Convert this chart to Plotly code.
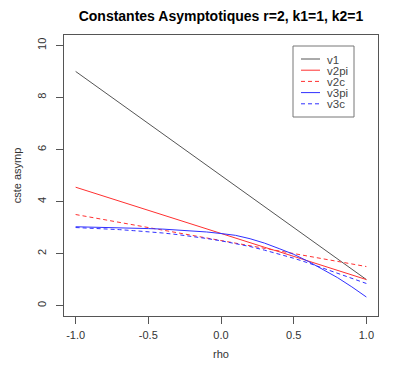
import plotly.graph_objects as go

# values
rho = [-1.0, -0.9, -0.8, -0.7, -0.6, -0.5, -0.4, -0.3, -0.2, -0.1, 0.0,
       0.1, 0.2, 0.3, 0.4, 0.5, 0.6, 0.7, 0.8, 0.9, 1.0]
v1 = [9.0, 8.6, 8.2, 7.8, 7.4, 7.0, 6.6, 6.2, 5.8, 5.4, 5.0,
      4.6, 4.2, 3.8, 3.4, 3.0, 2.6, 2.2, 1.8, 1.4, 1.0]
v2pi = [4.55, 4.37, 4.19, 4.02, 3.84, 3.66, 3.49, 3.31, 3.13, 2.95, 2.78,
        2.60, 2.42, 2.24, 2.07, 1.89, 1.71, 1.53, 1.36, 1.18, 1.0]
v2c = [3.5, 3.4, 3.3, 3.2, 3.1, 3.0, 2.9, 2.8, 2.7, 2.6, 2.5,
       2.4, 2.3, 2.2, 2.1, 2.0, 1.9, 1.8, 1.7, 1.6, 1.5]
v3pi = [3.03, 3.02, 3.01, 3.0, 2.98, 2.96, 2.94, 2.91, 2.88, 2.83, 2.77,
        2.70, 2.57, 2.40, 2.19, 1.97, 1.70, 1.40, 1.08, 0.72, 0.33]
v3c = [3.0, 2.98, 2.95, 2.92, 2.88, 2.84, 2.79, 2.73, 2.66, 2.58, 2.49,
       2.39, 2.27, 2.13, 1.98, 1.82, 1.64, 1.45, 1.26, 1.05, 0.85]

names = ["v1", "v2pi", "v2c", "v3pi", "v3c"]
values = [v1, v2pi, v2c, v3pi, v3c]
colors = ["#555555", "#ff3030", "#ff3030", "#3030ff", "#3030ff"]
dashes = ["solid", "solid", "4px,3px", "solid", "4px,3px"]

# the page body adds an 8px margin, so the figure is made 8px smaller
OFF = 8
W, H = 395 - OFF, 367 - OFF
L, R, T, B = 64 - OFF, 17, 35 - OFF, 51   # plot box in pixels


def px(x):
    # window pixel -> paper coordinate
    return (x - OFF - L) / (W - L - R)


def py(y):
    return (H - B - (y - OFF)) / (H - T - B)


fig = go.Figure()
for name, vals, col, dash in zip(names, values, colors, dashes):
    fig.add_trace(go.Scatter(
        x=rho, y=vals, name=name, mode="lines",
        line=dict(color=col, width=1, dash=dash),
    ))

# R-style legend box drawn by hand
fig.add_shape(type="rect", xref="paper", yref="paper",
              x0=px(293), x1=px(354), y0=py(117), y1=py(46),
              line=dict(color="#777", width=1), fillcolor="white", layer="above")
for i, (name, col, dash) in enumerate(zip(names, colors, dashes)):
    yy = 59 + i * 11.2
    fig.add_shape(type="line", xref="paper", yref="paper",
                  x0=px(301), x1=px(320), y0=py(yy), y1=py(yy),
                  line=dict(color=col, width=1, dash=dash), layer="above")
    fig.add_annotation(text=name, xref="paper", yref="paper", x=px(325), y=py(yy + 0.5),
                       xanchor="left", yanchor="middle", showarrow=False,
                       font=dict(family="Liberation Sans, Arial", size=11.5, color="#444"))

axis_style = dict(
    showline=True, mirror=True, linecolor="#555", linewidth=1,
    ticks="outside", ticklen=7, tickcolor="#555",
    showgrid=False, zeroline=False, automargin=False,
    tickfont=dict(family="Liberation Sans, Arial", size=11, color="#333"),
)
title_font = dict(family="Liberation Sans, Arial", size=11, color="#333")

fig.update_layout(
    template="none",
    width=W, height=H, showlegend=False,
    margin=dict(l=L, r=R, t=T, b=B),
    paper_bgcolor="white", plot_bgcolor="white",
    font=dict(family="Liberation Sans, Arial", color="#333"),
    title=dict(
        text="<b>Constantes Asymptotiques r=2, k1=1, k2=1</b>",
        x=(L + W - R) / 2 / W, xanchor="center", y=1 - (16 - OFF) / H, yanchor="middle",
        font=dict(family="Liberation Sans, Arial", size=14, color="black"),
    ),
    xaxis=dict(axis_style, range=[-1.08, 1.08], tickvals=[-1, -0.5, 0, 0.5, 1],
               ticktext=["-1.0", "-0.5", "0.0", "0.5", "1.0"], ticklabelstandoff=2,
               title=dict(text="rho", standoff=10, font=title_font)),
    yaxis=dict(axis_style, range=[-0.4, 10.4], tickvals=[0, 2, 4, 6, 8, 10], tickangle=-90,
               ticklabelstandoff=6,
               title=dict(text="cste asymp", standoff=11, font=title_font)),
)

fig.write_html("out.html")
